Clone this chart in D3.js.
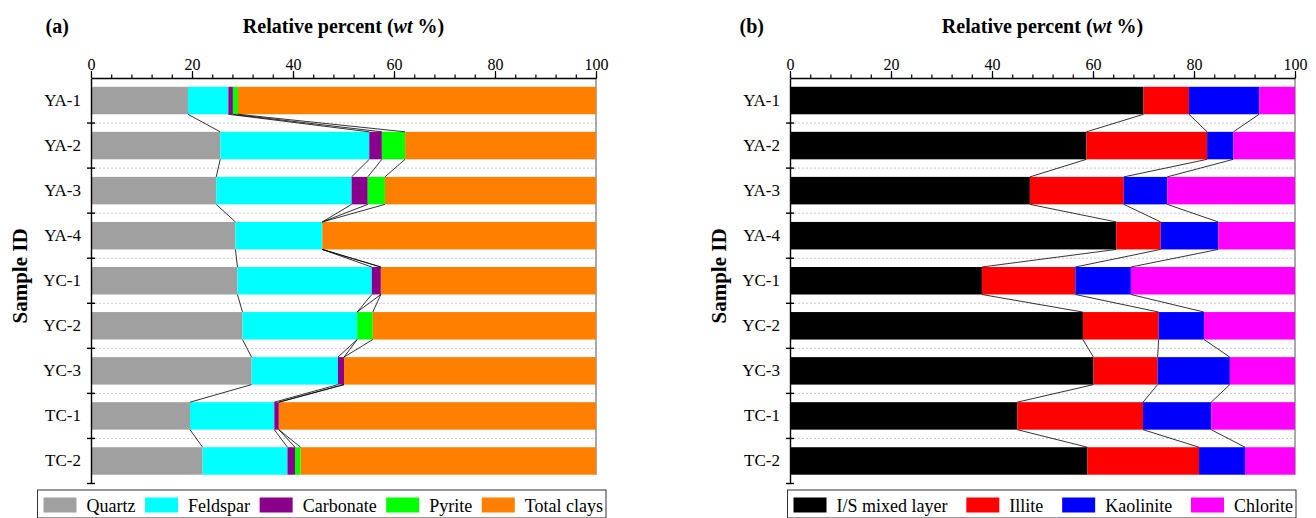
<!DOCTYPE html>
<html>
<head>
<meta charset="utf-8">
<script src="https://cdn.jsdelivr.net/npm/d3@7/dist/d3.min.js"></script>
<style>
  html, body { margin: 0; padding: 0; background: #fff; }
  svg { display: block; font-family: "Liberation Serif", "Times New Roman", serif; }
</style>
</head>
<body>
<svg id="chart" width="1316" height="518"></svg>
<script>
// ---------------- DATA ----------------
const samples = ["YA-1", "YA-2", "YA-3", "YA-4", "YC-1", "YC-2", "YC-3", "TC-1", "TC-2"];

// Panel (a): whole-rock mineralogy (wt %)
const seriesA = ["Quartz", "Feldspar", "Carbonate", "Pyrite", "Total clays"];
const quartz    = [19.2, 25.6, 24.8, 28.6, 29.0, 30.0, 31.8, 19.6, 22.1];
const feldspar  = [8.0, 29.5, 26.8, 17.2, 26.6, 22.7, 17.1, 16.7, 16.8];
const carbonate = [0.9, 2.5, 3.2, 0.0, 1.8, 0.0, 1.2, 0.9, 1.5];
const pyrite    = [1.0, 4.6, 3.4, 0.0, 0.0, 3.1, 0.0, 0.0, 1.1];
const totalClays = [70.9, 37.8, 41.8, 54.2, 42.6, 44.2, 49.9, 62.8, 58.5];
const colorsA = ["#a0a0a0", "#00ffff", "#8b008b", "#00ff00", "#ff8000"];

// Panel (b): clay mineral composition (wt %)
const seriesB = ["I/S mixed layer", "Illite", "Kaolinite", "Chlorite"];
const isMixed   = [70.0, 58.7, 47.5, 64.6, 38.0, 58.0, 60.1, 45.0, 58.9];
const illite    = [9.0, 23.9, 18.6, 8.8, 18.5, 15.0, 12.7, 24.9, 22.1];
const kaolinite = [13.9, 5.2, 8.6, 11.4, 11.0, 9.0, 14.3, 13.5, 9.1];
const chlorite  = [7.1, 12.2, 25.3, 15.2, 32.5, 18.0, 12.9, 16.6, 9.9];
const colorsB = ["#000000", "#ff0000", "#0000ff", "#ff00ff"];

const xTicks = [0, 20, 40, 60, 80, 100];
const xMinorTicks = d3.range(0, 101, 4);

// ---------------- DRAW ----------------
const svg = d3.select("#chart");

function drawPanel(cfg) {
  const { tag, values, names, colors, x0, x1, tagX, yLabelX, legendBox } = cfg;
  const top = 78, bottom = 483.5;
  const x = d3.scaleLinear().domain([0, 100]).range([x0, x1]);
  const y = d3.scaleBand().domain(samples).range([top, bottom])
    .paddingInner(0.39).paddingOuter(0.195);
  const g = svg.append("g");

  // build stacked table
  const table = samples.map((s, i) => {
    const row = { sample: s };
    names.forEach((n, j) => row[n] = values[j][i]);
    return row;
  });
  const stack = d3.stack().keys(names)(table);

  // dotted gridlines at category boundaries
  const step = y.step();
  const boundaries = d3.range(1, samples.length + 1).map(k => y(samples[0]) - y.paddingOuter() * step - 0 + k * step - (y.paddingInner() * step) / 2 + (y.paddingInner() * step) / 2);
  const bnd = d3.range(0, samples.length + 1).map(k => top + k * step);
  g.append("g").selectAll("line").data(bnd.slice(1, samples.length)).join("line")
    .attr("x1", x(0)).attr("x2", x(100))
    .attr("y1", d => d).attr("y2", d => d)
    .attr("stroke", "#c8c8c8").attr("stroke-width", 1)
    .attr("stroke-dasharray", "2,2");

  // right border line
  const lastBottom = y(samples[samples.length - 1]) + y.bandwidth();
  g.append("line")
    .attr("x1", x(100)).attr("x2", x(100))
    .attr("y1", top).attr("y2", lastBottom)
    .attr("stroke", "#555").attr("stroke-width", 1);

  // bars
  stack.forEach((layer, j) => {
    g.append("g").attr("fill", colors[j])
      .selectAll("rect").data(layer).join("rect")
      .attr("x", d => x(d[0]))
      .attr("width", d => Math.max(0, x(d[1]) - x(d[0])))
      .attr("y", d => y(d.data.sample))
      .attr("height", y.bandwidth());
  });

  // series connecting lines
  const lines = [];
  for (let j = 0; j < names.length - 1; j++) {
    for (let i = 0; i < samples.length - 1; i++) {
      lines.push({
        x1: x(stack[j][i][1]), y1: y(samples[i]) + y.bandwidth(),
        x2: x(stack[j][i + 1][1]), y2: y(samples[i + 1])
      });
    }
  }
  g.append("g").selectAll("line").data(lines).join("line")
    .attr("x1", d => d.x1).attr("y1", d => d.y1)
    .attr("x2", d => d.x2).attr("y2", d => d.y2)
    .attr("stroke", "#000").attr("stroke-width", 0.8);

  // top axis: minor ticks
  g.append("g").attr("transform", `translate(0,${top})`)
    .call(d3.axisTop(x).tickValues(xMinorTicks).tickSize(3.5).tickFormat(""))
    .call(a => a.select(".domain").remove())
    .call(a => a.selectAll("line").attr("stroke-width", 1.2));
  // top axis: major ticks + labels
  g.append("g").attr("transform", `translate(0,${top})`)
    .call(d3.axisTop(x).tickValues(xTicks).tickSize(7).tickSizeOuter(0).tickPadding(1.5))
    .call(a => a.select(".domain").attr("stroke-width", 1.4))
    .call(a => a.selectAll("line").attr("stroke-width", 1.2))
    .call(a => a.selectAll("text").attr("font-size", 16)
      .attr("font-family", "Liberation Serif").attr("fill", "#000"));

  // left axis with labels
  g.append("g").attr("transform", `translate(${x0},0)`)
    .call(d3.axisLeft(y).tickSize(0).tickSizeOuter(0).tickPadding(10))
    .call(a => a.select(".domain").attr("stroke-width", 1.4))
    .call(a => a.selectAll("text").attr("font-size", 17)
      .attr("font-family", "Liberation Serif").attr("fill", "#000"));
  // boundary ticks crossing the left axis
  g.append("g").selectAll("line").data(bnd.slice(1)).join("line")
    .attr("x1", x0 - 4).attr("x2", x0 + 4)
    .attr("y1", d => d).attr("y2", d => d)
    .attr("stroke", "#000").attr("stroke-width", 1.4);

  // title
  const t = g.append("text")
    .attr("x", (x0 + x1) / 2).attr("y", 33)
    .attr("text-anchor", "middle").attr("font-size", 20).attr("font-weight", "bold");
  t.append("tspan").text("Relative percent (");
  t.append("tspan").attr("font-style", "italic").text("wt");
  t.append("tspan").text(" %)");

  // panel tag
  g.append("text").attr("x", tagX).attr("y", 33)
    .attr("font-size", 20).attr("font-weight", "bold").text(tag);

  // y axis title
  g.append("text")
    .attr("transform", `translate(${yLabelX},276) rotate(-90)`)
    .attr("text-anchor", "middle").attr("font-size", 21).attr("font-weight", "bold")
    .text("Sample ID");

  // legend
  const [lx0, lx1, ly0, lh] = legendBox;
  const lg = g.append("g");
  lg.append("rect").attr("x", lx0).attr("y", ly0).attr("width", lx1 - lx0).attr("height", lh)
    .attr("fill", "#fff").attr("stroke", "#333").attr("stroke-width", 1);
  const items = lg.selectAll("g.item").data(names).join("g").attr("class", "item");
  items.append("rect").attr("width", 33).attr("height", 15).attr("y", ly0 + 7.5)
    .attr("fill", (d, j) => colors[j]);
  const texts = items.append("text").attr("y", ly0 + 22).attr("x", 43)
    .attr("font-size", 18).text(d => d);
  const widths = texts.nodes().map(n => n.getComputedTextLength());
  const swW = 43;
  const leftM = 6, rightM = 3;
  const total = d3.sum(widths) + swW * names.length;
  const gap = (lx1 - lx0 - leftM - rightM - total) / (names.length - 1);
  let cx = lx0 + leftM;
  items.each(function (d, j) {
    d3.select(this).attr("transform", `translate(${cx},0)`);
    cx += swW + widths[j] + gap;
  });
}

drawPanel({
  tag: "(a)",
  values: [quartz, feldspar, carbonate, pyrite, totalClays],
  names: seriesA, colors: colorsA,
  x0: 91, x1: 596, tagX: 45.5, yLabelX: 26.5,
  legendBox: [37.5, 606, 490, 28]
});
drawPanel({
  tag: "(b)",
  values: [isMixed, illite, kaolinite, chlorite],
  names: seriesB, colors: colorsB,
  x0: 790, x1: 1295, tagX: 739.5, yLabelX: 725.5,
  legendBox: [787.5, 1296, 490, 28]
});
</script>
</body>
</html>
